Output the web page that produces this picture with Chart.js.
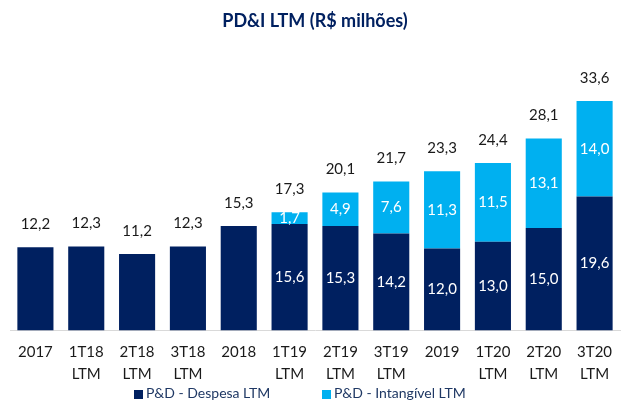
<!DOCTYPE html>
<html>
<head>
<meta charset="utf-8">
<script src="https://cdn.jsdelivr.net/npm/chart.js@4"></script>
<style>
  html, body { margin: 0; padding: 0; background: #fff; }
  #wrap { position: relative; width: 624px; height: 403px; }
  #legend { position: absolute; left: 0; top: 385px; width: 624px; height: 16px; font: 14px Lato, sans-serif; color: #1F3864; }
  .item { position: absolute; top: 0; height: 16px; line-height: 16px; white-space: nowrap; }
  .box { display: inline-block; width: 9px; height: 9px; margin-right: 3px; vertical-align: -1px; }
</style>
</head>
<body>
<div id="wrap">
  <canvas id="chart" width="624" height="403"></canvas>
  <div id="legend"></div>
</div>
<script>
// PD&I LTM (R$ milhões)
const categories = [
  ["2017"], ["1T18", "LTM"], ["2T18", "LTM"], ["3T18", "LTM"], ["2018"],
  ["1T19", "LTM"], ["2T19", "LTM"], ["3T19", "LTM"], ["2019"],
  ["1T20", "LTM"], ["2T20", "LTM"], ["3T20", "LTM"]
];
const despesa = [12.2, 12.3, 11.2, 12.3, 15.3, 15.6, 15.3, 14.2, 12.0, 13.0, 15.0, 19.6];
const intangivel = [null, null, null, null, null, 1.7, 4.9, 7.6, 11.3, 11.5, 13.1, 14.0];
const totals = [12.2, 12.3, 11.2, 12.3, 15.3, 17.3, 20.1, 21.7, 23.3, 24.4, 28.1, 33.6];
const seriesNames = ["P&D - Despesa LTM", "P&D - Intangível LTM"];

const NAVY = "#002060";
const CYAN = "#00B0F0";

function fmt(v) {
  return v.toFixed(1).replace(".", ",");
}

/**
 * Values inside the segments and totals above the bars.
 */
const valueLabels = {
  id: "valueLabels",
  afterDatasetsDraw(chart) {
    const ctx = chart.ctx;
    const bottomMeta = chart.getDatasetMeta(0);
    const topMeta = chart.getDatasetMeta(1);
    ctx.save();
    ctx.font = "15px Lato";
    ctx.textAlign = "center";
    ctx.textBaseline = "middle";
    bottomMeta.data.forEach((bar, i) => {
      let topY = bar.y;
      if (intangivel[i] != null) {
        const upper = topMeta.data[i];
        ctx.fillStyle = "#fff";
        ctx.fillText(fmt(despesa[i]), bar.x, (bar.y + bar.base) / 2);
        ctx.fillText(fmt(intangivel[i]), upper.x, (upper.y + upper.base) / 2);
        topY = upper.y;
      }
      ctx.fillStyle = "#1a1a1a";
      ctx.fillText(fmt(totals[i]), bar.x, topY - 23);
    });
    ctx.restore();
  }
};

const chart = new Chart(document.getElementById("chart"), {
  type: "bar",
  data: {
    labels: categories,
    datasets: [
      { label: seriesNames[0], data: despesa, backgroundColor: NAVY },
      { label: seriesNames[1], data: intangivel, backgroundColor: CYAN }
    ]
  },
  options: {
    responsive: false,
    animation: false,
    datasets: { bar: { categoryPercentage: 1, barPercentage: 0.71 } },
    layout: { padding: { left: 10, right: 4, top: 0, bottom: 7 } },
    plugins: {
      title: {
        display: true,
        text: "PD&I LTM (R$ milhões)",
        color: NAVY,
        font: { family: "Lato", size: 18, weight: "bold" },
        padding: { top: 10, bottom: 25.6 }
      },
      legend: { display: false },
      tooltip: { enabled: false }
    },
    scales: {
      x: {
        stacked: true,
        grid: { display: false, drawTicks: false },
        border: { display: true, color: "#d9d9d9", width: 1 },
        ticks: {
          color: "#1a1a1a",
          font: { family: "Lato", size: 15, lineHeight: 1.45 },
          padding: 11,
          maxRotation: 0,
          autoSkip: false
        }
      },
      y: {
        stacked: true,
        display: false,
        min: 0,
        max: 40
      }
    }
  },
  plugins: [valueLabels]
});

// html legend built from the datasets
const legendEl = document.getElementById("legend");
const legendLeft = [134, 322];
chart.data.datasets.forEach((ds, i) => {
  const item = document.createElement("span");
  item.className = "item";
  item.style.left = legendLeft[i] + "px";
  item.innerHTML = `<span class="box" style="background:${ds.backgroundColor}"></span>${ds.label.replace("&", "&amp;")}`;
  legendEl.appendChild(item);
});
</script>
</body>
</html>
